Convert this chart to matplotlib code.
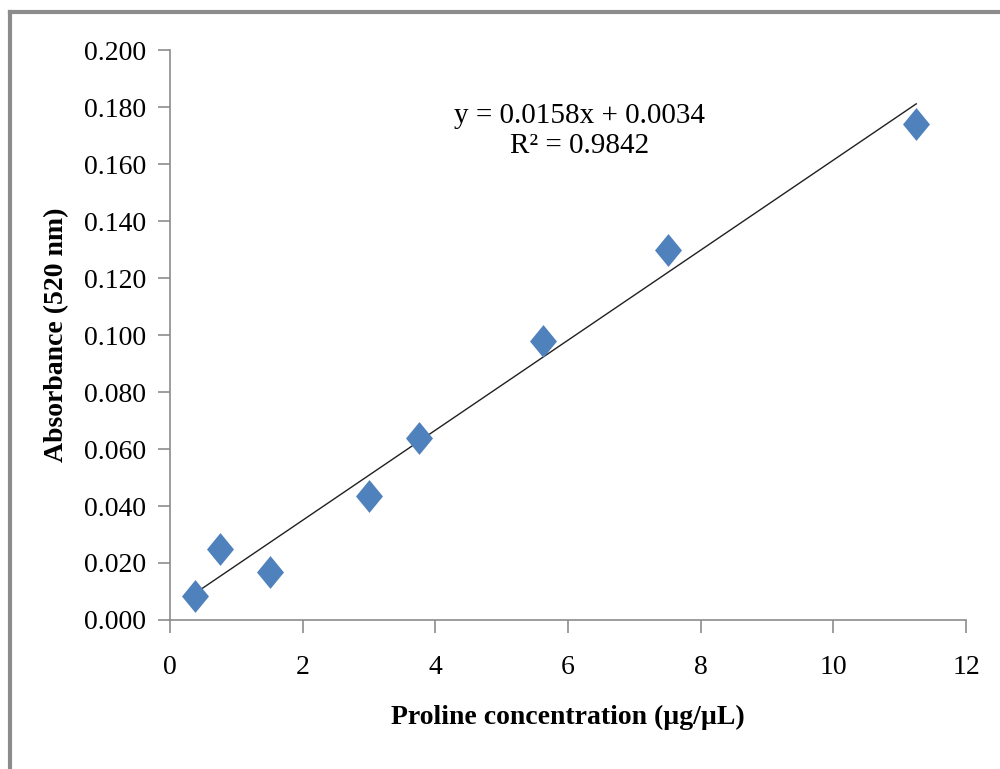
import numpy as np
import matplotlib.pyplot as plt
from matplotlib.lines import Line2D

# proline standard curve
conc = [0.375, 0.75, 1.5, 3.0, 3.75, 5.625, 7.5, 11.25]
absorb = [0.0085, 0.025, 0.017, 0.0435, 0.064, 0.098, 0.130, 0.174]
slope = 0.0158
intercept = 0.0034
yticks = [0.0, 0.02, 0.04, 0.06, 0.08, 0.10, 0.12, 0.14, 0.16, 0.18, 0.20]

plt.rcParams['font.family'] = ['Liberation Serif', 'DejaVu Serif']

fig = plt.figure(figsize=(10, 7.69), dpi=100)
ax = fig.add_axes([0.170, 0.1938, 0.796, 0.741])

# tall diamond marker
diamond = [(-0.82, 0), (0, 1), (0.82, 0), (0, -1), (-0.82, 0)]
ax.scatter(conc, absorb, marker=diamond, s=560, color='#4F81BD', zorder=3, linewidths=0)

xs = np.array([conc[0], conc[-1]])
ax.plot(xs, slope * xs + intercept, color='#202020', lw=1.0, zorder=2)

ax.set_xlim(0, 12)
ax.set_ylim(0, 0.2)
ax.set_xticks(range(0, 13, 2))
ax.set_yticks(yticks)
ax.set_yticklabels(['%.3f' % v for v in yticks])
for s in ['top', 'right']:
    ax.spines[s].set_visible(False)
for s in ['left', 'bottom']:
    ax.spines[s].set_color('#8c8c8c')
    ax.spines[s].set_linewidth(1.2)
ax.tick_params(direction='out', length=9, width=1.2, color='#8c8c8c', labelsize=20)
ax.tick_params(axis='x', pad=16)
ax.tick_params(axis='y', pad=8)

ax.set_xlabel('Proline concentration (µg/µL)', fontsize=20, fontweight='bold', labelpad=18)
ax.set_ylabel('Absorbance (520 nm)', fontsize=20, fontweight='bold', labelpad=11)

ax.text(6.18, 0.1716, 'y = 0.0158x + 0.0034\nR² = 0.9842', fontsize=21,
        ha='center', va='center', linespacing=1.2)

# grey frame on top and left
fig.add_artist(Line2D([0.010, 0.010], [0, 0.985], transform=fig.transFigure, color='#8c8c8c', lw=3))
fig.add_artist(Line2D([0.010, 1.0], [0.985, 0.985], transform=fig.transFigure, color='#8c8c8c', lw=3))

fig.savefig('out.png', dpi=100)
